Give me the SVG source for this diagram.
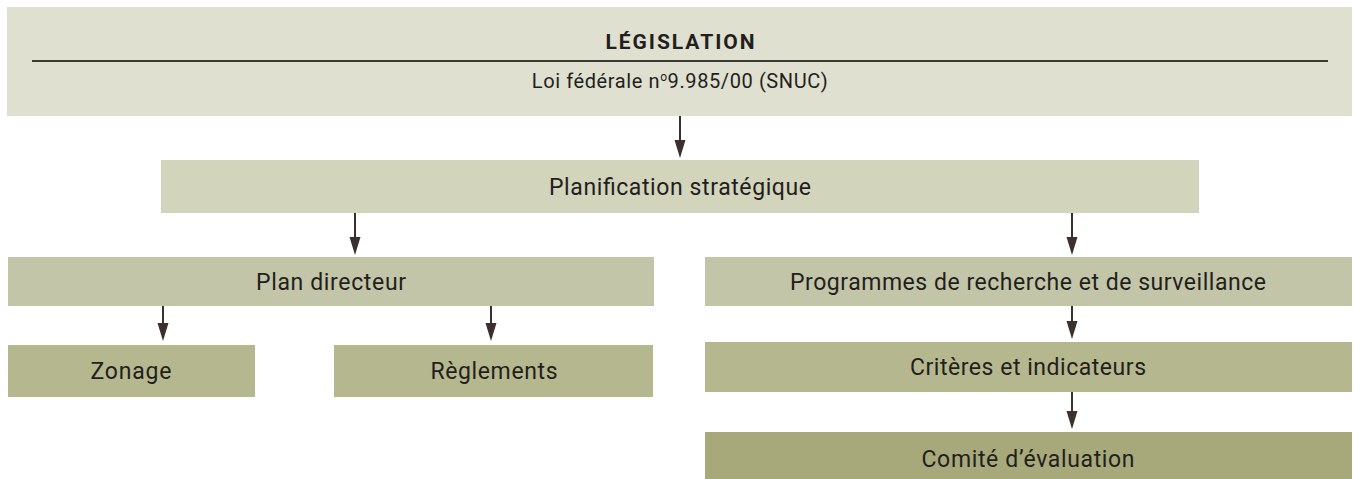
<svg xmlns="http://www.w3.org/2000/svg" width="1354" height="479" viewBox="0 0 1354 479">
  <defs>
    <style>
      .lbl { font-family: Roboto, "Noto Sans", "Liberation Sans", sans-serif; font-size: 23px; fill: #231f1c; text-anchor: middle; }
      .title { font-weight: bold; font-size: 21px; }
      .sub { font-size: 20px; letter-spacing: 0.6px; }
      .c0 { fill: #e0e0d1; }
      .c1 { fill: #d2d4bc; }
      .c2 { fill: #c2c5a7; }
      .c3 { fill: #b5b78f; }
      .c4 { fill: #a7a97b; }
      .conn { stroke: #3a302c; stroke-width: 2; fill: none; }
      .head { fill: #3a302c; }
    </style>
  </defs>

  <g id="legislation">
    <rect class="c0" x="7" y="7" width="1345" height="109"/>
    <text class="lbl title" x="680" y="49" textLength="149" lengthAdjust="spacing">LÉGISLATION</text>
    <line x1="32" y1="61" x2="1328" y2="61" stroke="#3a3a32" stroke-width="2"/>
    <text class="lbl sub" x="680" y="88">Loi fédérale n<tspan font-size="12" dy="-7">o</tspan><tspan dy="7">9.985/00 (SNUC)</tspan></text>
  </g>

  <g id="planification">
    <rect class="c1" x="161" y="160" width="1038" height="53"/>
    <text class="lbl" x="680" y="195" textLength="262" lengthAdjust="spacing">Planification stratégique</text>
  </g>

  <g id="plan-directeur">
    <rect class="c2" x="8" y="257" width="646" height="49"/>
    <text class="lbl" x="331" y="290" textLength="150" lengthAdjust="spacing">Plan directeur</text>
  </g>

  <g id="programmes">
    <rect class="c2" x="705" y="257" width="647" height="49"/>
    <text class="lbl" x="1028" y="290" textLength="476" lengthAdjust="spacing">Programmes de recherche et de surveillance</text>
  </g>

  <g id="zonage">
    <rect class="c3" x="8" y="345" width="247" height="52"/>
    <text class="lbl" x="131" y="379" textLength="81" lengthAdjust="spacing">Zonage</text>
  </g>

  <g id="reglements">
    <rect class="c3" x="334" y="345" width="319" height="52"/>
    <text class="lbl" x="494" y="379" textLength="127" lengthAdjust="spacing">Règlements</text>
  </g>

  <g id="criteres">
    <rect class="c3" x="705" y="342" width="647" height="50"/>
    <text class="lbl" x="1028" y="375" textLength="236" lengthAdjust="spacing">Critères et indicateurs</text>
  </g>

  <g id="comite">
    <rect class="c4" x="705" y="432" width="647" height="47"/>
    <text class="lbl" x="1028" y="467" textLength="213" lengthAdjust="spacing">Comité d’évaluation</text>
  </g>

  <!-- connectors: vertical shafts with triangular heads -->
  <g id="connectors">
    <line class="conn" x1="680" y1="116" x2="680" y2="143"/>
    <path class="head" d="M674.5,140 L685.5,140 L680,158 Z"/>

    <line class="conn" x1="355" y1="213" x2="355" y2="240"/>
    <path class="head" d="M349.5,237 L360.5,237 L355,255 Z"/>

    <line class="conn" x1="1072" y1="213" x2="1072" y2="240"/>
    <path class="head" d="M1066.5,237 L1077.5,237 L1072,255 Z"/>

    <line class="conn" x1="163" y1="306" x2="163" y2="326"/>
    <path class="head" d="M157.5,323 L168.5,323 L163,341 Z"/>

    <line class="conn" x1="491" y1="306" x2="491" y2="326"/>
    <path class="head" d="M485.5,323 L496.5,323 L491,341 Z"/>

    <line class="conn" x1="1072" y1="306" x2="1072" y2="324"/>
    <path class="head" d="M1066.5,321 L1077.5,321 L1072,339 Z"/>

    <line class="conn" x1="1072" y1="392" x2="1072" y2="414"/>
    <path class="head" d="M1066.5,411 L1077.5,411 L1072,429 Z"/>
  </g>
</svg>
